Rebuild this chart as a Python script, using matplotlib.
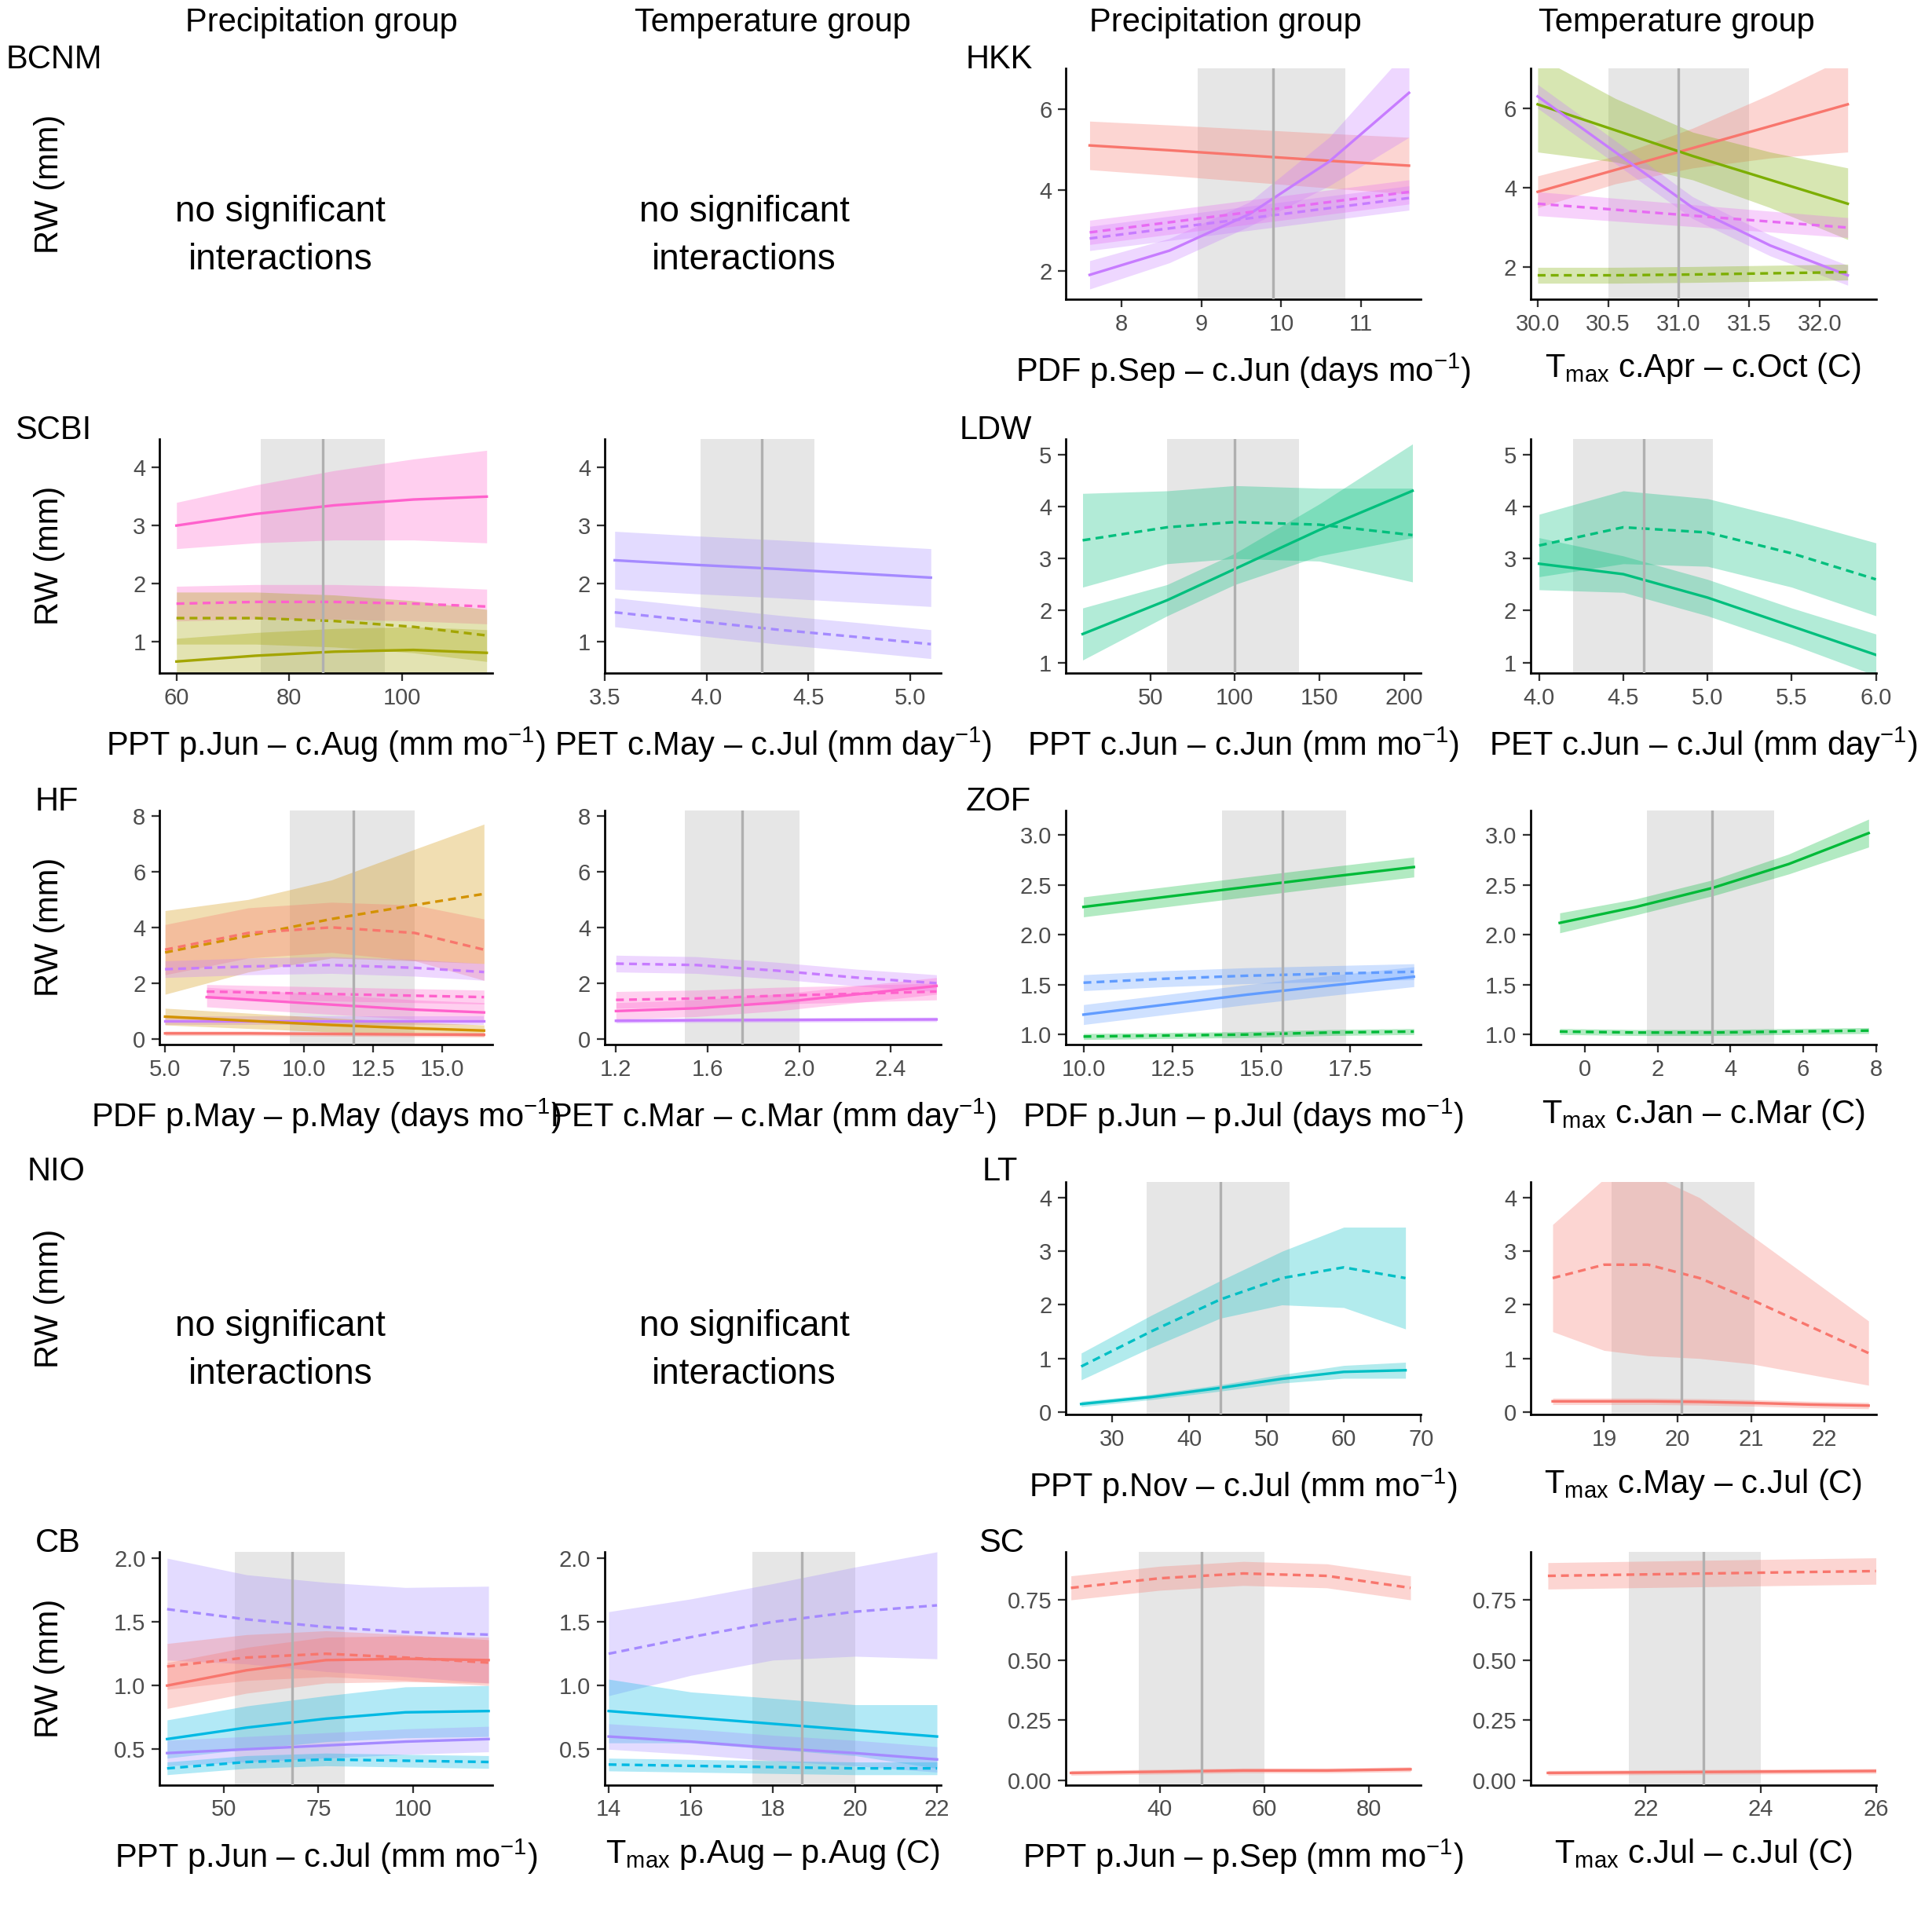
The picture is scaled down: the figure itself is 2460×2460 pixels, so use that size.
import matplotlib
matplotlib.use("Agg")
import matplotlib.pyplot as plt
import numpy as np

plt.rcParams['font.family'] = ['Liberation Sans', 'DejaVu Sans']
plt.rcParams['mathtext.fontset'] = 'custom'
plt.rcParams['mathtext.rm'] = 'Liberation Sans'
plt.rcParams['mathtext.it'] = 'Liberation Sans'

RED = '#F8766D'; PURPLE = '#C77CFF'; PINK = '#E76BF3'; OLIVE = '#7CAE00'
SPINK = '#FF61CC'; SOLIVE = '#A3A500'; LAV = '#A58AFF'; GOLD = '#D39200'
LGREEN = '#00BF7D'; ZGREEN = '#00BA38'; BLUE = '#619CFF'; CYAN = '#00BFC4'; CBCYAN = '#00B9E3'

headers = ["Precipitation group", "Temperature group", "Precipitation group", "Temperature group"]
sites_left = ["BCNM", "SCBI", "HF", "NIO", "CB"]
sites_right = ["HKK", "LDW", "ZOF", "LT", "SC"]

# ---- HKK precipitation ----
hkkp_x = [7.6, 8.6, 9.6, 10.6, 11.6]
hkkp_red = [5.1, 4.98, 4.85, 4.72, 4.6]
hkkp_purple = [1.9, 2.5, 3.4, 4.7, 6.4]
hkkp_purple_d = [2.8, 3.05, 3.3, 3.55, 3.8]
hkkp_pink_d = [2.95, 3.2, 3.45, 3.7, 3.95]
# ---- HKK temperature ----
hkkt_x = [30.0, 30.55, 31.1, 31.65, 32.2]
hkkt_red = [3.9, 4.45, 5.0, 5.55, 6.1]
hkkt_olive = [6.1, 5.45, 4.8, 4.2, 3.6]
hkkt_purple = [6.3, 4.9, 3.5, 2.55, 1.8]
hkkt_pink_d = [3.6, 3.45, 3.3, 3.15, 3.0]
hkkt_olive_d = [1.8, 1.8, 1.82, 1.85, 1.88]
# ---- SCBI ----
scbip_x = [60, 74, 88, 102, 115]
scbip_pink = [3.0, 3.2, 3.35, 3.45, 3.5]
scbip_pink_d = [1.65, 1.68, 1.68, 1.65, 1.6]
scbip_olive_d = [1.4, 1.4, 1.35, 1.25, 1.1]
scbip_olive = [0.65, 0.75, 0.82, 0.85, 0.8]
scbit_x = [3.55, 3.95, 4.35, 4.75, 5.1]
scbit_lav = [2.4, 2.32, 2.25, 2.17, 2.1]
scbit_lav_d = [1.5, 1.35, 1.2, 1.07, 0.95]
# ---- LDW ----
ldwp_x = [10, 60, 100, 150, 205]
ldwp_solid = [1.55, 2.2, 2.8, 3.55, 4.3]
ldwp_dash = [3.35, 3.6, 3.7, 3.65, 3.45]
ldwt_x = [4.0, 4.5, 5.0, 5.5, 6.0]
ldwt_solid = [2.9, 2.7, 2.25, 1.7, 1.15]
ldwt_dash = [3.25, 3.6, 3.5, 3.1, 2.6]
# ---- HF ----
hfp_x = [5.0, 8.0, 11.0, 14.0, 16.5]
hfp_gold_d = [3.1, 3.7, 4.3, 4.8, 5.2]
hfp_red_d = [3.2, 3.8, 4.0, 3.8, 3.2]
hfp_purple_d = [2.5, 2.6, 2.65, 2.55, 2.4]
hfp_gold = [0.8, 0.65, 0.5, 0.38, 0.3]
hfp_red = [0.2, 0.2, 0.18, 0.16, 0.15]
hfp_purple = [0.65, 0.65, 0.65, 0.65, 0.65]
hfp_x2 = [6.5, 9.0, 11.5, 14.0, 16.5]
hfp_pink_d = [1.7, 1.65, 1.6, 1.55, 1.5]
hfp_pink = [1.5, 1.35, 1.2, 1.05, 0.95]
hft_x = [1.2, 1.55, 1.9, 2.25, 2.6]
hft_purple_d = [2.7, 2.65, 2.45, 2.2, 2.0]
hft_pink_d = [1.4, 1.45, 1.55, 1.62, 1.7]
hft_pink = [1.0, 1.1, 1.3, 1.6, 1.9]
hft_purple = [0.65, 0.67, 0.68, 0.69, 0.7]
# ---- ZOF ----
zofp_x = [10.0, 12.3, 14.6, 16.9, 19.3]
zofp_green = [2.28, 2.38, 2.48, 2.58, 2.68]
zofp_blue_d = [1.52, 1.56, 1.59, 1.61, 1.63]
zofp_blue = [1.2, 1.3, 1.4, 1.49, 1.58]
zofp_green_d = [0.98, 0.99, 1.0, 1.02, 1.03]
zoft_x = [-0.7, 1.4, 3.5, 5.6, 7.8]
zoft_green = [2.12, 2.28, 2.47, 2.71, 3.02]
zoft_green_d = [1.03, 1.02, 1.02, 1.03, 1.04]
# ---- LT ----
ltp_x = [26, 35, 44, 52, 60, 68]
ltp_dash = [0.85, 1.5, 2.1, 2.5, 2.7, 2.5]
ltp_solid = [0.15, 0.28, 0.45, 0.62, 0.75, 0.78]
ltt_x = [18.3, 19.0, 19.6, 20.3, 21.0, 21.8, 22.6]
ltt_dash = [2.5, 2.75, 2.75, 2.5, 2.1, 1.6, 1.1]
ltt_solid = [0.2, 0.2, 0.2, 0.19, 0.17, 0.14, 0.12]
# ---- CB ----
cbp_x = [35, 56, 77, 98, 120]
cbp_lav_d = [1.6, 1.52, 1.46, 1.42, 1.4]
cbp_red_d = [1.15, 1.22, 1.25, 1.22, 1.18]
cbp_red = [1.0, 1.12, 1.2, 1.21, 1.2]
cbp_cyan = [0.58, 0.67, 0.74, 0.79, 0.8]
cbp_lav = [0.47, 0.5, 0.53, 0.56, 0.58]
cbp_cyan_d = [0.35, 0.4, 0.42, 0.41, 0.4]
cbt_x = [14, 16, 18, 20, 22]
cbt_lav_d = [1.25, 1.38, 1.5, 1.58, 1.63]
cbt_cyan = [0.8, 0.75, 0.7, 0.65, 0.6]
cbt_lav = [0.6, 0.56, 0.51, 0.47, 0.42]
cbt_cyan_d = [0.38, 0.37, 0.36, 0.35, 0.35]
# ---- SC ----
scp_x = [23, 40, 56, 72, 88]
scp_dash = [0.8, 0.84, 0.86, 0.85, 0.8]
scp_solid = [0.03, 0.035, 0.04, 0.04, 0.045]
sct_x = [20.3, 21.7, 23.1, 24.5, 26.0]
sct_dash = [0.85, 0.855, 0.86, 0.865, 0.87]
sct_solid = [0.03, 0.032, 0.034, 0.036, 0.038]

def hw(a, b, n):
    return list(np.linspace(a, b, n))

W = 1550.0
fig = plt.figure(figsize=(16.4, 16.4), dpi=150)
cols = [(128, 395), (485, 755), (855, 1140), (1228, 1505)]
rows = [(55, 240), (352, 540), (650, 838), (948, 1135), (1245, 1432)]
FS = 20

def mkax(r, c):
    (l, rr), (t, b) = cols[c], rows[r]
    ax = fig.add_axes([l / W, 1 - b / W, (rr - l) / W, (b - t) / W])
    for s in ['top', 'right']:
        ax.spines[s].set_visible(False)
    for s in ['left', 'bottom']:
        ax.spines[s].set_linewidth(1.3)
    ax.tick_params(labelsize=14, colors='#4d4d4d', width=1.1, length=5)
    ax.tick_params(axis='both', color='#333333')
    return ax

def panel(r, c, xlim, ylim, xt, yt, shade, vline, curves, xlabel, xtl=None, ytl=None):
    ax = mkax(r, c)
    ax.axvspan(shade[0], shade[1], color='#d6d6d6', alpha=0.6, lw=0, zorder=0)
    for x, y, h, col, ls in curves:
        x = np.array(x); y = np.array(y); h = np.array(h)
        ax.fill_between(x, y - h, y + h, color=col, alpha=0.3, lw=0, zorder=1)
        ax.plot(x, y, color=col, ls=ls, lw=1.6, zorder=2)
    ax.axvline(vline, color='#b0b0b0', lw=1.6, zorder=3)
    ax.set_xlim(*xlim); ax.set_ylim(*ylim)
    ax.set_xticks(xt); ax.set_yticks(yt)
    if xtl: ax.set_xticklabels(xtl)
    if ytl: ax.set_yticklabels(ytl)
    ax.set_xlabel(xlabel, fontsize=FS, labelpad=10)
    return ax

S, D = '-', (0, (3, 2))

panel(0, 2, (7.3, 11.75), (1.3, 7.0), [8, 9, 10, 11], [2, 4, 6], (8.95, 10.8), 9.9, [
    (hkkp_x, hkkp_red, hw(0.6, 0.7, 5), RED, S),
    (hkkp_x, hkkp_purple, [0.35, 0.3, 0.3, 0.6, 1.1], PURPLE, S),
    (hkkp_x, hkkp_purple_d, hw(0.3, 0.3, 5), PURPLE, D),
    (hkkp_x, hkkp_pink_d, hw(0.3, 0.3, 5), PINK, D)],
    'PDF p.Sep – c.Jun (days mo$^{-1}$)')
panel(0, 3, (29.95, 32.4), (1.2, 7.0), [30.0, 30.5, 31.0, 31.5, 32.0], [2, 4, 6], (30.5, 31.5), 31.0, [
    (hkkt_x, hkkt_red, [0.4, 0.35, 0.5, 0.8, 1.2], RED, S),
    (hkkt_x, hkkt_olive, [1.2, 0.8, 0.6, 0.7, 0.9], OLIVE, S),
    (hkkt_x, hkkt_purple, hw(0.3, 0.25, 5), PURPLE, S),
    (hkkt_x, hkkt_pink_d, hw(0.3, 0.25, 5), PINK, D),
    (hkkt_x, hkkt_olive_d, hw(0.2, 0.2, 5), OLIVE, D)],
    'T$_{max}$ c.Apr – c.Oct (C)', xtl=['30.0', '30.5', '31.0', '31.5', '32.0'])

panel(1, 0, (57, 116), (0.45, 4.5), [60, 80, 100], [1, 2, 3, 4], (75, 97), 86, [
    (scbip_x, scbip_pink, [0.4, 0.5, 0.6, 0.7, 0.8], SPINK, S),
    (scbip_x, scbip_pink_d, hw(0.3, 0.3, 5), SPINK, D),
    (scbip_x, scbip_olive_d, hw(0.45, 0.45, 5), SOLIVE, D),
    (scbip_x, scbip_olive, hw(0.4, 0.4, 5), SOLIVE, S)],
    'PPT p.Jun – c.Aug (mm mo$^{-1}$)')
panel(1, 1, (3.5, 5.15), (0.45, 4.5), [3.5, 4.0, 4.5, 5.0], [1, 2, 3, 4], (3.97, 4.53), 4.27, [
    (scbit_x, scbit_lav, hw(0.5, 0.5, 5), LAV, S),
    (scbit_x, scbit_lav_d, hw(0.25, 0.25, 5), LAV, D)],
    'PET c.May – c.Jul (mm day$^{-1}$)', xtl=['3.5', '4.0', '4.5', '5.0'])
panel(1, 2, (0, 210), (0.8, 5.3), [50, 100, 150, 200], [1, 2, 3, 4, 5], (60, 138), 100, [
    (ldwp_x, ldwp_solid, [0.5, 0.3, 0.3, 0.5, 0.9], LGREEN, S),
    (ldwp_x, ldwp_dash, [0.9, 0.7, 0.7, 0.7, 0.9], LGREEN, D)],
    'PPT c.Jun – c.Jun (mm mo$^{-1}$)')
panel(1, 3, (3.95, 6.0), (0.8, 5.3), [4.0, 4.5, 5.0, 5.5, 6.0], [1, 2, 3, 4, 5], (4.2, 5.03), 4.62, [
    (ldwt_x, ldwt_solid, [0.5, 0.35, 0.35, 0.35, 0.4], LGREEN, S),
    (ldwt_x, ldwt_dash, [0.6, 0.7, 0.65, 0.65, 0.7], LGREEN, D)],
    'PET c.Jun – c.Jul (mm day$^{-1}$)', xtl=['4.0', '4.5', '5.0', '5.5', '6.0'])

panel(2, 0, (4.8, 16.8), (-0.2, 8.2), [5, 7.5, 10, 12.5, 15], [0, 2, 4, 6, 8], (9.5, 14), 11.8, [
    (hfp_x, hfp_gold_d, [1.5, 1.3, 1.4, 2.0, 2.5], GOLD, D),
    (hfp_x, hfp_red_d, [0.9, 0.9, 0.9, 1.0, 1.1], RED, D),
    (hfp_x, hfp_purple_d, hw(0.3, 0.3, 5), PURPLE, D),
    (hfp_x2, hfp_pink_d, hw(0.25, 0.25, 5), SPINK, D),
    (hfp_x2, hfp_pink, hw(0.35, 0.35, 5), SPINK, S),
    (hfp_x, hfp_purple, hw(0.15, 0.15, 5), PURPLE, S),
    (hfp_x, hfp_gold, hw(0.3, 0.2, 5), GOLD, S),
    (hfp_x, hfp_red, hw(0.08, 0.08, 5), RED, S)],
    'PDF p.May – p.May (days mo$^{-1}$)', xtl=['5.0', '7.5', '10.0', '12.5', '15.0'])
panel(2, 1, (1.15, 2.62), (-0.2, 8.2), [1.2, 1.6, 2.0, 2.4], [0, 2, 4, 6, 8], (1.5, 2.0), 1.75, [
    (hft_x, hft_purple_d, hw(0.3, 0.3, 5), PURPLE, D),
    (hft_x, hft_pink_d, hw(0.3, 0.3, 5), SPINK, D),
    (hft_x, hft_pink, hw(0.3, 0.3, 5), SPINK, S),
    (hft_x, hft_purple, hw(0.08, 0.08, 5), PURPLE, S)],
    'PET c.Mar – c.Mar (mm day$^{-1}$)')
panel(2, 2, (9.5, 19.5), (0.9, 3.25), [10, 12.5, 15, 17.5], [1.0, 1.5, 2.0, 2.5, 3.0], (13.9, 17.4), 15.6, [
    (zofp_x, zofp_green, hw(0.1, 0.1, 5), ZGREEN, S),
    (zofp_x, zofp_blue_d, hw(0.08, 0.08, 5), BLUE, D),
    (zofp_x, zofp_blue, hw(0.1, 0.1, 5), BLUE, S),
    (zofp_x, zofp_green_d, hw(0.03, 0.03, 5), ZGREEN, D)],
    'PDF p.Jun – p.Jul (days mo$^{-1}$)', xtl=['10.0', '12.5', '15.0', '17.5'], ytl=['1.0', '1.5', '2.0', '2.5', '3.0'])
panel(2, 3, (-1.5, 8.0), (0.9, 3.25), [0, 2, 4, 6, 8], [1.0, 1.5, 2.0, 2.5, 3.0], (1.7, 5.2), 3.5, [
    (zoft_x, zoft_green, [0.1, 0.08, 0.08, 0.1, 0.14], ZGREEN, S),
    (zoft_x, zoft_green_d, hw(0.03, 0.03, 5), ZGREEN, D)],
    'T$_{max}$ c.Jan – c.Mar (C)', ytl=['1.0', '1.5', '2.0', '2.5', '3.0'])

panel(3, 2, (24, 70), (-0.05, 4.3), [30, 40, 50, 60, 70], [0, 1, 2, 3, 4], (34.5, 53), 44, [
    (ltp_x, ltp_dash, [0.25, 0.3, 0.35, 0.5, 0.75, 0.95], CYAN, D),
    (ltp_x, ltp_solid, [0.05, 0.05, 0.06, 0.08, 0.12, 0.15], CYAN, S)],
    'PPT p.Nov – c.Jul (mm mo$^{-1}$)')
panel(3, 3, (18.0, 22.7), (-0.05, 4.3), [19, 20, 21, 22], [0, 1, 2, 3, 4], (19.1, 21.05), 20.05, [
    (ltt_x, ltt_dash, [1.0, 1.6, 1.7, 1.5, 1.2, 0.9, 0.6], RED, D),
    (ltt_x, ltt_solid, [0.06] * 7, RED, S)],
    'T$_{max}$ c.May – c.Jul (C)')

panel(4, 0, (33, 121), (0.22, 2.05), [50, 75, 100], [0.5, 1.0, 1.5, 2.0], (53, 82), 68, [
    (cbp_x, cbp_lav_d, [0.4, 0.35, 0.35, 0.35, 0.38], LAV, D),
    (cbp_x, cbp_red_d, hw(0.18, 0.18, 5), RED, D),
    (cbp_x, cbp_red, hw(0.18, 0.18, 5), RED, S),
    (cbp_x, cbp_cyan, [0.15, 0.17, 0.18, 0.2, 0.2], CBCYAN, S),
    (cbp_x, cbp_lav, hw(0.1, 0.1, 5), LAV, S),
    (cbp_x, cbp_cyan_d, hw(0.05, 0.05, 5), CBCYAN, D)],
    'PPT p.Jun – c.Jul (mm mo$^{-1}$)', ytl=['0.5', '1.0', '1.5', '2.0'])
panel(4, 1, (13.9, 22.1), (0.22, 2.05), [14, 16, 18, 20, 22], [0.5, 1.0, 1.5, 2.0], (17.5, 20.0), 18.7, [
    (cbt_x, cbt_lav_d, [0.33, 0.3, 0.3, 0.35, 0.42], LAV, D),
    (cbt_x, cbt_cyan, [0.25, 0.2, 0.2, 0.2, 0.25], CBCYAN, S),
    (cbt_x, cbt_lav, hw(0.1, 0.1, 5), LAV, S),
    (cbt_x, cbt_cyan_d, hw(0.05, 0.05, 5), CBCYAN, D)],
    'T$_{max}$ p.Aug – p.Aug (C)', ytl=['0.5', '1.0', '1.5', '2.0'])
panel(4, 2, (22, 90), (-0.02, 0.95), [40, 60, 80], [0, 0.25, 0.5, 0.75], (36, 60), 48, [
    (scp_x, scp_dash, hw(0.05, 0.05, 5), RED, D),
    (scp_x, scp_solid, hw(0.01, 0.01, 5), RED, S)],
    'PPT p.Jun – p.Sep (mm mo$^{-1}$)', ytl=['0.00', '0.25', '0.50', '0.75'])
panel(4, 3, (20.0, 26.0), (-0.02, 0.95), [22, 24, 26], [0, 0.25, 0.5, 0.75], (21.7, 24.0), 23.0, [
    (sct_x, sct_dash, hw(0.055, 0.055, 5), RED, D),
    (sct_x, sct_solid, hw(0.01, 0.01, 5), RED, S)],
    'T$_{max}$ c.Jul – c.Jul (C)', ytl=['0.00', '0.25', '0.50', '0.75'])

for cx, h in zip([258, 620, 983, 1345], headers):
    fig.text(cx / W, 1 - 18 / W, h, fontsize=FS, ha='center', va='center')
for (x, y), s in zip([(5, 48), (12, 345), (28, 643), (22, 940), (28, 1238)], sites_left):
    fig.text(x / W, 1 - y / W, s, fontsize=FS, ha='left', va='center')
for (x, y), s in zip([(775, 48), (770, 345), (775, 643), (788, 940), (785, 1238)], sites_right):
    fig.text(x / W, 1 - y / W, s, fontsize=FS, ha='left', va='center')
for t, b in rows:
    fig.text(40 / W, 1 - ((t + b) / 2) / W, "RW (mm)", fontsize=FS, rotation=90, ha='center', va='center')
for r in [0, 3]:
    t, b = rows[r]
    for cx in [225, 597]:
        fig.text(cx / W, 1 - ((t + b) / 2 + 42) / W, "no significant\ninteractions", fontsize=22,
                 ha='center', va='center', linespacing=1.5)

fig.savefig("out.png", dpi=150, facecolor='white')
